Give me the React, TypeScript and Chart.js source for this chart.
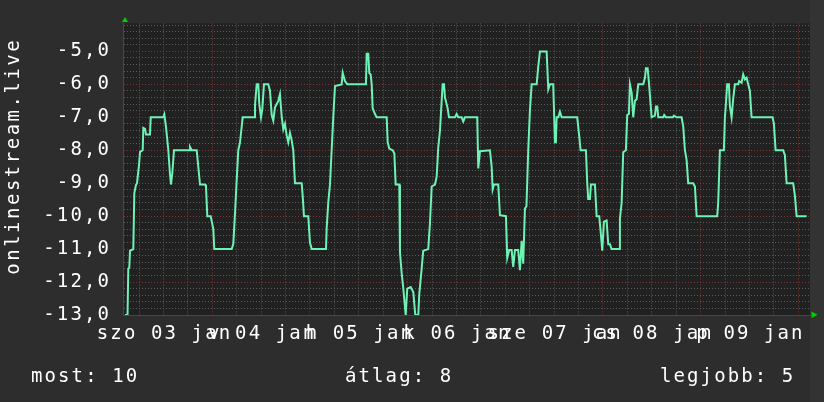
import React, { useEffect, useRef } from 'react';
import { Chart, registerables } from 'chart.js';

Chart.register(...registerables);

// ---- data (hours since Sat 03 Jan 00:00, plotted value = -rank) ----
const hours = [
  2.55, 3.17, 3.36, 3.61, 3.78, 4.59, 4.84, 5.25, 5.5, 5.99, 6.24, 6.9, 7.05, 7.47, 7.71, 8.69, 8.87,
  11.96, 12.21, 12.63, 13.19, 13.61, 13.85, 14.17, 14.59, 18.35, 18.52, 18.94, 20.17, 20.56, 20.98,
  22.21, 22.45, 22.77, 23.61, 24.25, 24.49, 28.77, 29.16, 29.58, 30.0, 30.39, 30.81, 31.47, 34.25,
  34.49, 34.91, 35.3, 35.55, 35.97, 36.29, 36.7, 37.76, 38.18, 38.6, 38.99, 39.41, 40.22, 40.63,
  41.05, 41.45, 41.86, 42.28, 42.67, 43.09, 43.51, 43.9, 44.32, 45.97, 46.21, 46.53, 47.59, 48.0,
  48.42, 51.94, 52.11, 52.5, 52.92, 53.17, 53.73, 54.15, 55.79, 56.04, 56.6, 57.17, 61.76, 61.94,
  62.33, 62.58, 62.92, 63.17, 63.41, 63.98, 64.39, 66.85, 67.1, 67.49, 68.33, 68.74, 69.06, 69.95,
  70.12, 70.54, 70.93, 71.52, 71.91, 72.75, 73.39, 73.88, 74.62, 74.86, 75.45, 75.84, 77.07, 77.49,
  77.91, 78.72, 79.14, 79.53, 79.95, 80.37, 80.61, 80.93, 81.18, 81.59, 81.84, 82.16, 83.63, 84.05,
  84.44, 85.28, 85.67, 86.09, 89.11, 89.36, 89.78, 92.23, 92.65, 92.9, 93.22, 94.27, 94.69, 96.16,
  96.48, 96.97, 97.56, 97.95, 98.37, 99.18, 99.6, 100.02, 100.41, 100.83, 101.2, 101.64, 102.06,
  102.48, 103.71, 104.1, 104.52, 106.16, 106.56, 106.97, 107.78, 108.2, 108.44, 108.62, 109.02,
  109.43, 109.85, 113.68, 114.17, 114.51, 115.82, 116.14, 116.38, 116.8, 117.05, 118.03, 118.45,
  119.09, 119.43, 119.83, 120.0, 120.24, 120.9, 121.3, 121.72, 122.13, 124.0, 124.17, 124.59,
  124.98, 125.64, 125.96, 126.38, 126.63, 127.05, 127.44, 127.86, 128.28, 128.67, 129.9, 130.32,
  130.56, 130.98, 131.3, 131.71, 131.96, 132.77, 133.02, 133.34, 133.59, 134.82, 135.06, 135.48,
  137.2, 137.44, 138.1, 139.33, 139.73, 140.14, 140.56, 140.95, 142.18, 142.6, 143.02, 148.08,
  148.33, 148.74, 149.72, 149.97, 150.21, 150.53, 150.95, 151.19, 151.61, 152.0, 152.42, 153.23,
  153.48, 154.07, 154.46, 154.88, 155.3, 155.69, 156.11, 156.53, 161.69, 162.01, 162.43, 164.29,
  164.71, 165.13, 166.75, 167.17, 167.59, 170.05,
];
const ranks = [
  -13, -13, -11.6, -11.55, -11.05, -11.0, -9.3, -9.05, -9.0, -8.45, -8.05, -8.0, -7.32, -7.35, -7.52, -7.52, -7.0,
  -7.0, -6.91, -7.3, -8.0, -8.74, -9.04, -8.7, -8.0, -8.0, -7.9, -8.0, -8.0, -8.5, -9.04,
  -9.04, -9.1, -10.0, -10.0, -10.39, -11.0, -11.0, -10.85, -9.92, -8.89, -8.0, -7.76, -7.0, -7.0,
  -6.64, -6.0, -6.0, -6.6, -7.0, -6.75, -6.0, -6.0, -6.2, -6.93, -7.1, -6.7, -6.5, -6.3,
  -6.97, -7.37, -7.2, -7.55, -7.76, -7.47, -7.7, -8.0, -9.0, -9.0, -9.38, -10.0, -10.0, -10.8,
  -11.0, -11.0, -10.36, -9.58, -9.04, -8.4, -7.0, -6.05, -6.0, -5.65, -5.9, -6.0, -6.0, -5.07,
  -5.07, -5.66, -5.7, -6.0, -6.73, -6.9, -7.0, -7.0, -7.76, -7.95, -8.0, -8.1, -9.04, -9.04,
  -11.1, -11.73, -12.18, -13.0, -12.2, -12.15, -12.3, -13.0, -13.0, -12.37, -11.59, -11.05, -11.0, -10.21,
  -9.1, -9.04, -8.8, -7.91, -7.4, -6.49, -6.0, -6.0, -6.4, -6.6, -6.73, -7.0, -7.0, -6.9,
  -7.0, -7.0, -7.13, -7.0, -7.0, -8.55, -8.03, -8.0, -8.5, -9.19, -9.04, -9.04, -9.97, -10.0,
  -11.27, -11.03, -11.03, -11.54, -11.03, -11.03, -11.64, -10.75, -11.44, -9.77, -9.7, -8.0, -6.78,
  -6.0, -6.0, -5.46, -5.0, -5.0, -6.15, -6.0, -6.0, -7.76, -7.76, -7.0, -7.0,
  -6.83, -7.0, -7.0, -7.57, -8.0, -8.0, -8.99, -9.48, -9.48, -9.04, -9.04, -10.0,
  -10.0, -10.46, -11.05, -11.05, -10.17, -10.13, -10.85, -10.85, -11.0, -11.0, -10.07, -9.6,
  -8.06, -8.0, -6.93, -6.9, -6.0, -6.25, -7.0, -6.5, -6.45, -6.0, -6.0, -5.8,
  -5.51, -5.51, -5.95, -6.6, -7.0, -6.95, -6.67, -6.67, -7.0, -7.0, -6.93, -7.0,
  -7.0, -6.95, -7.0, -7.0, -7.28, -8.0, -8.3, -9.0, -9.0, -9.1, -10.0, -10.0,
  -9.57, -8.0, -8.0, -7.0, -6.6, -6.0, -6.0, -6.66, -7.0, -6.45, -6.0, -6.0,
  -5.9, -5.95, -5.7, -5.85, -5.8, -6.0, -6.2, -7.0, -7.0, -7.2, -8.0, -8.0,
  -8.15, -9.0, -9.0, -9.38, -10.0, -10.0,
];

const dayLabels = ['szo 03 jan', 'v 04 jan', 'h 05 jan', 'k 06 jan', 'sze 07 jan', 'cs 08 jan', 'p 09 jan'];
const dayLabelHours = [12, 36, 60, 84, 108, 132, 156];
const seriesName = 'onlinestream.live';
const legendLabels = ['most', 'átlag', 'legjobb'];
const legendValues = [10, 8, 5];

const X_MIN = 2.057;
const X_MAX = 170.88;
const Y_MIN = -13;
const Y_MAX = -4.15;

const xGridHours: number[] = [];
for (let h = 6; h <= 168; h += 6) xGridHours.push(h);
const yGridValues: number[] = [];
for (let i = -65; i <= -21; i++) yGridValues.push(Math.round(i * 2) / 10);

const MAJOR = '#7e3434';
const MINOR = '#5a5a5a';
const FONT = '"DejaVu Sans Mono", monospace';
const FS = 19;
const LS = '2.1px';

const isInt = (v: number) => Math.abs(v - Math.round(v)) < 1e-6;

const rrdPlugin = {
  id: 'rrdDecor',
  beforeDraw(chart: any) {
    const { ctx, chartArea: a, width, height } = chart;
    ctx.save();
    ctx.fillStyle = '#2d2d2d';
    ctx.fillRect(0, 0, width, height);
    ctx.fillStyle = '#333333';
    ctx.fillRect(a.right, 0, width - a.right, height);
    ctx.fillStyle = '#212121';
    ctx.fillRect(a.left, a.top, a.right - a.left, a.bottom - a.top);
    ctx.restore();
    ctx.letterSpacing = LS;
  },
  afterDraw(chart: any) {
    const { ctx, chartArea: a } = chart;
    const xs = chart.scales.x;
    ctx.save();
    ctx.letterSpacing = LS;
    ctx.fillStyle = '#ffffff';
    ctx.font = `${FS}px ${FONT}`;
    ctx.textBaseline = 'alphabetic';
    ctx.textAlign = 'center';
    dayLabels.forEach((l, i) => {
      ctx.fillText(l, xs.getPixelForValue(dayLabelHours[i]) + 1.05, 339);
    });
    ctx.textAlign = 'left';
    const legendX = [31, 345, 660];
    legendLabels.forEach((l, i) => {
      ctx.fillText(`${l}: ${legendValues[i]}`, legendX[i], 381.5);
    });
    // y axis title
    ctx.save();
    ctx.letterSpacing = '2.5px';
    ctx.translate(19, 157.5);
    ctx.rotate(-Math.PI / 2);
    ctx.textAlign = 'center';
    ctx.fillText(seriesName, 1.25, 0);
    ctx.restore();
    // arrows
    ctx.letterSpacing = '0px';
    ctx.fillStyle = '#00d000';
    ctx.beginPath();
    ctx.moveTo(a.left - 1, a.top - 1.5);
    ctx.lineTo(a.left + 5, a.top - 1.5);
    ctx.lineTo(a.left + 2, a.top - 6.5);
    ctx.closePath();
    ctx.fill();
    ctx.beginPath();
    ctx.moveTo(a.right + 1.5, a.bottom - 3.5);
    ctx.lineTo(a.right + 1.5, a.bottom + 3);
    ctx.lineTo(a.right + 7.5, a.bottom - 0.2);
    ctx.closePath();
    ctx.fill();
    ctx.restore();
    ctx.letterSpacing = '0px';
  },
};

export default function App() {
  const ref = useRef<HTMLCanvasElement>(null);
  useEffect(() => {
    if (!ref.current) return;
    const chart = new Chart(ref.current, {
      type: 'line',
      data: {
        datasets: [
          {
            label: seriesName,
            data: hours.map((h, i) => ({ x: h, y: ranks[i] })),
            borderColor: '#6ef2b5',
            borderWidth: 2,
            pointRadius: 0,
            tension: 0,
            fill: false,
          },
        ],
      },
      options: {
        responsive: false,
        devicePixelRatio: 1,
        animation: false,
        layout: { padding: { top: 14, right: 14, left: 0, bottom: 0 } },
        plugins: { legend: { display: false }, tooltip: { enabled: false } },
        scales: {
          x: {
            type: 'linear',
            min: X_MIN,
            max: X_MAX,
            afterBuildTicks: (s: any) => {
              s.ticks = xGridHours.map((v) => ({ value: v }));
            },
            afterFit: (s: any) => {
              s.height = 87;
            },
            ticks: { display: false, autoSkip: false },
            grid: {
              drawTicks: false,
              lineWidth: 1,
              color: (c: any) => (c.tick && c.tick.value % 24 === 0 ? MAJOR : MINOR),
            },
            border: { color: '#474747', dash: [1, 2] },
          },
          y: {
            type: 'linear',
            min: Y_MIN,
            max: Y_MAX,
            afterBuildTicks: (s: any) => {
              s.ticks = yGridValues.map((v) => ({ value: v }));
            },
            afterFit: (s: any) => {
              s.width = 123;
            },
            ticks: {
              autoSkip: false,
              padding: 12,
              color: '#ffffff',
              font: { family: FONT, size: FS },
              callback: (v: any) => (isInt(Number(v)) ? Number(v).toFixed(1).replace('.', ',') : ''),
            },
            grid: {
              drawTicks: false,
              lineWidth: 1,
              color: (c: any) => (c.tick && isInt(c.tick.value) ? MAJOR : MINOR),
            },
            border: { color: '#474747', dash: [1, 2] },
          },
        },
      },
      plugins: [rrdPlugin],
    } as any);
    return () => chart.destroy();
  }, []);
  return (
    <div style={{ position: 'fixed', left: 0, top: 0, width: 824, height: 402, background: '#2d2d2d' }}>
      <canvas ref={ref} width={824} height={402} style={{ display: 'block', width: 824, height: 402 }} />
    </div>
  );
}
